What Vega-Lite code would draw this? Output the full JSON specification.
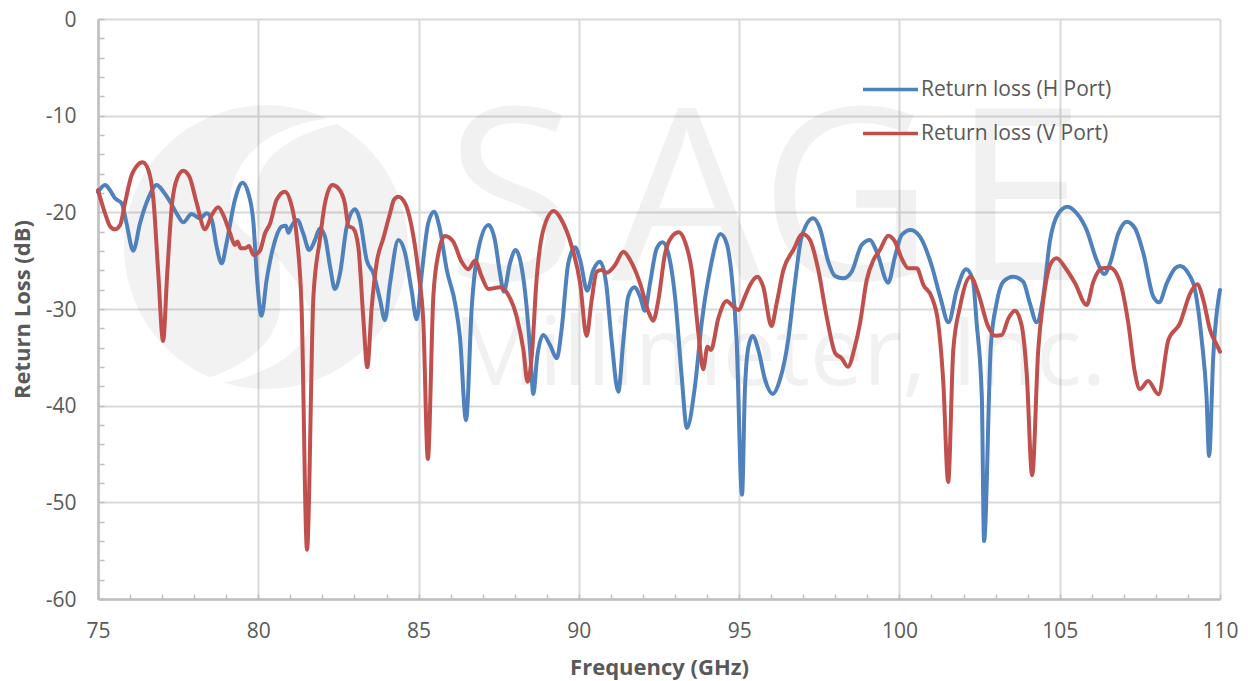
{"$schema":"https://vega.github.io/schema/vega-lite/v6.json","width":1122,"height":580,"autosize":{"type":"none"},"padding":{"left":98,"top":19,"right":28,"bottom":82},"background":"white","config":{"view":{"stroke":null},"font":"Open Sans"},
"datasets":{"H":[{"freq":75,"loss":-17.9},{"freq":75.22,"loss":-17.17},{"freq":75.37,"loss":-17.69},{"freq":75.53,"loss":-18.55},{"freq":75.74,"loss":-19.07},{"freq":75.89,"loss":-21.14},{"freq":76.1,"loss":-23.97},{"freq":76.31,"loss":-21.14},{"freq":76.57,"loss":-18.55},{"freq":76.83,"loss":-17.17},{"freq":77.04,"loss":-17.86},{"freq":77.25,"loss":-18.9},{"freq":77.45,"loss":-20.1},{"freq":77.66,"loss":-21.03},{"freq":77.92,"loss":-20.17},{"freq":78.18,"loss":-20.62},{"freq":78.39,"loss":-20.1},{"freq":78.55,"loss":-20.79},{"freq":78.7,"loss":-23.55},{"freq":78.86,"loss":-25.28},{"freq":79.01,"loss":-23.2},{"freq":79.27,"loss":-18.72},{"freq":79.51,"loss":-16.93},{"freq":79.69,"loss":-18.03},{"freq":79.85,"loss":-21.14},{"freq":79.95,"loss":-26.31},{"freq":80.1,"loss":-30.69},{"freq":80.26,"loss":-27},{"freq":80.47,"loss":-23.55},{"freq":80.73,"loss":-21.48},{"freq":80.86,"loss":-21.38},{"freq":80.94,"loss":-22.1},{"freq":81.04,"loss":-21.41},{"freq":81.22,"loss":-20.79},{"freq":81.4,"loss":-22.17},{"freq":81.59,"loss":-23.9},{"freq":81.77,"loss":-22.86},{"freq":81.92,"loss":-21.66},{"freq":82.08,"loss":-22.52},{"freq":82.24,"loss":-25.62},{"freq":82.39,"loss":-27.93},{"freq":82.55,"loss":-26.31},{"freq":82.76,"loss":-21.48},{"freq":83.02,"loss":-19.69},{"freq":83.17,"loss":-20.79},{"freq":83.38,"loss":-24.93},{"freq":83.59,"loss":-26.31},{"freq":83.8,"loss":-29.07},{"freq":83.95,"loss":-31.14},{"freq":84.11,"loss":-27.34},{"freq":84.37,"loss":-22.86},{"freq":84.58,"loss":-24.24},{"freq":84.78,"loss":-28.03},{"freq":84.94,"loss":-31.07},{"freq":85.1,"loss":-26.31},{"freq":85.3,"loss":-21.14},{"freq":85.48,"loss":-19.93},{"freq":85.65,"loss":-21.48},{"freq":85.88,"loss":-25.96},{"freq":86.14,"loss":-29.41},{"freq":86.29,"loss":-32.86},{"freq":86.48,"loss":-41.5},{"freq":86.66,"loss":-29.76},{"freq":86.86,"loss":-23.9},{"freq":87.18,"loss":-21.31},{"freq":87.38,"loss":-22.86},{"freq":87.54,"loss":-26.31},{"freq":87.66,"loss":-28.21},{"freq":87.85,"loss":-25.28},{"freq":88.03,"loss":-23.9},{"freq":88.18,"loss":-25.1},{"freq":88.37,"loss":-29.76},{"freq":88.48,"loss":-34.24},{"freq":88.58,"loss":-38.79},{"freq":88.7,"loss":-34.93},{"freq":88.89,"loss":-32.69},{"freq":89.1,"loss":-33.72},{"freq":89.31,"loss":-35.1},{"freq":89.46,"loss":-32.17},{"freq":89.67,"loss":-25.28},{"freq":89.88,"loss":-23.62},{"freq":90.04,"loss":-24.93},{"freq":90.26,"loss":-28.1},{"freq":90.45,"loss":-25.97},{"freq":90.66,"loss":-25.1},{"freq":90.85,"loss":-27.34},{"freq":91.02,"loss":-33.2},{"freq":91.23,"loss":-38.55},{"freq":91.39,"loss":-33.2},{"freq":91.54,"loss":-28.72},{"freq":91.73,"loss":-27.76},{"freq":91.91,"loss":-28.72},{"freq":92.06,"loss":-30.17},{"freq":92.22,"loss":-27.34},{"freq":92.43,"loss":-23.72},{"freq":92.61,"loss":-23.1},{"freq":92.79,"loss":-24.24},{"freq":93,"loss":-28.72},{"freq":93.2,"loss":-36.66},{"freq":93.37,"loss":-42.3},{"freq":93.62,"loss":-38.03},{"freq":93.83,"loss":-31.48},{"freq":94.09,"loss":-25.97},{"freq":94.42,"loss":-22.24},{"freq":94.61,"loss":-23.2},{"freq":94.77,"loss":-26.66},{"freq":94.92,"loss":-33.2},{"freq":95.09,"loss":-49.2},{"freq":95.18,"loss":-38.38},{"freq":95.29,"loss":-33.9},{"freq":95.42,"loss":-32.79},{"freq":95.6,"loss":-34.24},{"freq":95.81,"loss":-37.34},{"freq":96.05,"loss":-38.79},{"freq":96.27,"loss":-37.34},{"freq":96.53,"loss":-33.2},{"freq":96.74,"loss":-27.34},{"freq":96.95,"loss":-22.52},{"freq":97.31,"loss":-20.62},{"freq":97.52,"loss":-21.66},{"freq":97.78,"loss":-25.1},{"freq":97.99,"loss":-26.59},{"freq":98.25,"loss":-26.83},{"freq":98.51,"loss":-26.14},{"freq":98.82,"loss":-23.38},{"freq":99.08,"loss":-22.86},{"freq":99.29,"loss":-24.07},{"freq":99.65,"loss":-27.28},{"freq":99.86,"loss":-24.59},{"freq":100.07,"loss":-22.34},{"freq":100.35,"loss":-21.83},{"freq":100.64,"loss":-22.52},{"freq":101,"loss":-25.45},{"freq":101.27,"loss":-28.72},{"freq":101.53,"loss":-31.38},{"freq":101.79,"loss":-28.03},{"freq":102.08,"loss":-25.9},{"freq":102.29,"loss":-27},{"freq":102.41,"loss":-31.48},{"freq":102.57,"loss":-39.07},{"freq":102.64,"loss":-54},{"freq":102.85,"loss":-33.9},{"freq":103.03,"loss":-29.41},{"freq":103.24,"loss":-27.17},{"freq":103.55,"loss":-26.66},{"freq":103.86,"loss":-27.17},{"freq":104.07,"loss":-29.41},{"freq":104.28,"loss":-31.38},{"freq":104.47,"loss":-29.07},{"freq":104.7,"loss":-22.86},{"freq":104.96,"loss":-20.1},{"freq":105.24,"loss":-19.41},{"freq":105.53,"loss":-20.1},{"freq":105.84,"loss":-21.83},{"freq":106.15,"loss":-24.93},{"freq":106.39,"loss":-26.38},{"freq":106.57,"loss":-25.28},{"freq":106.83,"loss":-22.17},{"freq":107.09,"loss":-20.97},{"freq":107.35,"loss":-21.66},{"freq":107.61,"loss":-24.24},{"freq":107.92,"loss":-28.72},{"freq":108.1,"loss":-29.31},{"freq":108.34,"loss":-27.34},{"freq":108.6,"loss":-25.79},{"freq":108.75,"loss":-25.55},{"freq":109.01,"loss":-26.31},{"freq":109.22,"loss":-28.03},{"freq":109.43,"loss":-33.2},{"freq":109.58,"loss":-39.07},{"freq":109.66,"loss":-45.2},{"freq":109.79,"loss":-34.93},{"freq":110,"loss":-28.03}],
"V":[{"freq":75,"loss":-17.7},{"freq":75.22,"loss":-20.1},{"freq":75.37,"loss":-21.41},{"freq":75.53,"loss":-21.76},{"freq":75.69,"loss":-21.31},{"freq":75.84,"loss":-19.07},{"freq":76.05,"loss":-16.14},{"freq":76.21,"loss":-15.2},{"freq":76.39,"loss":-14.83},{"freq":76.57,"loss":-15.62},{"freq":76.73,"loss":-18.72},{"freq":76.88,"loss":-26.31},{"freq":77.03,"loss":-33.31},{"freq":77.16,"loss":-26.31},{"freq":77.3,"loss":-19.41},{"freq":77.47,"loss":-16.48},{"freq":77.66,"loss":-15.69},{"freq":77.85,"loss":-16.31},{"freq":78.08,"loss":-19.07},{"freq":78.34,"loss":-21.76},{"freq":78.55,"loss":-20.28},{"freq":78.75,"loss":-19.48},{"freq":78.91,"loss":-20.28},{"freq":79.12,"loss":-22.17},{"freq":79.27,"loss":-23.38},{"freq":79.35,"loss":-23.03},{"freq":79.45,"loss":-23.72},{"freq":79.59,"loss":-23.72},{"freq":79.71,"loss":-23.48},{"freq":79.85,"loss":-24.41},{"freq":80.05,"loss":-23.97},{"freq":80.21,"loss":-22.17},{"freq":80.37,"loss":-21.14},{"freq":80.57,"loss":-18.72},{"freq":80.83,"loss":-17.86},{"freq":81.02,"loss":-19.07},{"freq":81.2,"loss":-22.52},{"freq":81.35,"loss":-29.76},{"freq":81.52,"loss":-54.9},{"freq":81.72,"loss":-28.7},{"freq":81.92,"loss":-22.86},{"freq":82.08,"loss":-19.07},{"freq":82.31,"loss":-17.17},{"freq":82.5,"loss":-17.52},{"freq":82.7,"loss":-19.07},{"freq":82.81,"loss":-21.41},{"freq":82.96,"loss":-21.66},{"freq":83.12,"loss":-23.55},{"freq":83.28,"loss":-31.14},{"freq":83.4,"loss":-36.03},{"freq":83.54,"loss":-29.76},{"freq":83.69,"loss":-25.28},{"freq":83.9,"loss":-22.69},{"freq":84.11,"loss":-20.1},{"freq":84.23,"loss":-18.72},{"freq":84.37,"loss":-18.38},{"freq":84.58,"loss":-19.07},{"freq":84.84,"loss":-22.52},{"freq":85,"loss":-26.31},{"freq":85.15,"loss":-31.48},{"freq":85.29,"loss":-45.5},{"freq":85.46,"loss":-28.72},{"freq":85.62,"loss":-24.24},{"freq":85.82,"loss":-22.45},{"freq":86.08,"loss":-23.03},{"freq":86.34,"loss":-25.1},{"freq":86.55,"loss":-25.9},{"freq":86.76,"loss":-25},{"freq":86.97,"loss":-26.66},{"freq":87.18,"loss":-27.93},{"freq":87.54,"loss":-27.76},{"freq":87.8,"loss":-28.55},{"freq":88.06,"loss":-30.79},{"freq":88.27,"loss":-34.24},{"freq":88.4,"loss":-37.52},{"freq":88.53,"loss":-34.93},{"freq":88.68,"loss":-27},{"freq":88.89,"loss":-21.83},{"freq":89.22,"loss":-19.86},{"freq":89.46,"loss":-20.79},{"freq":89.78,"loss":-23.55},{"freq":90.04,"loss":-27.34},{"freq":90.24,"loss":-32.79},{"freq":90.4,"loss":-29.07},{"freq":90.56,"loss":-26.14},{"freq":90.71,"loss":-25.97},{"freq":90.87,"loss":-26.24},{"freq":91.13,"loss":-25.45},{"freq":91.39,"loss":-24.07},{"freq":91.6,"loss":-24.93},{"freq":91.91,"loss":-27.34},{"freq":92.17,"loss":-30.28},{"freq":92.32,"loss":-31.21},{"freq":92.48,"loss":-29.07},{"freq":92.69,"loss":-24.24},{"freq":92.9,"loss":-22.52},{"freq":93.12,"loss":-22.07},{"freq":93.31,"loss":-23.03},{"freq":93.52,"loss":-25.97},{"freq":93.73,"loss":-32.52},{"freq":93.88,"loss":-36.24},{"freq":94.01,"loss":-33.9},{"freq":94.12,"loss":-34.24},{"freq":94.35,"loss":-30.97},{"freq":94.61,"loss":-29.17},{"freq":94.82,"loss":-29.76},{"freq":94.98,"loss":-30.1},{"freq":95.18,"loss":-28.72},{"freq":95.34,"loss":-27.52},{"freq":95.57,"loss":-26.66},{"freq":95.75,"loss":-27.69},{"freq":96.01,"loss":-31.76},{"freq":96.17,"loss":-29.41},{"freq":96.38,"loss":-25.97},{"freq":96.69,"loss":-23.9},{"freq":96.98,"loss":-22.24},{"freq":97.21,"loss":-22.86},{"freq":97.47,"loss":-25.97},{"freq":97.73,"loss":-30.79},{"freq":98,"loss":-34.59},{"freq":98.2,"loss":-35.1},{"freq":98.39,"loss":-35.97},{"freq":98.61,"loss":-33.9},{"freq":98.77,"loss":-31.48},{"freq":98.98,"loss":-27},{"freq":99.19,"loss":-24.93},{"freq":99.39,"loss":-23.9},{"freq":99.65,"loss":-22.41},{"freq":99.86,"loss":-23.03},{"freq":100.07,"loss":-24.76},{"freq":100.28,"loss":-25.79},{"freq":100.54,"loss":-25.79},{"freq":100.75,"loss":-27.52},{"freq":101,"loss":-28.72},{"freq":101.21,"loss":-31.48},{"freq":101.37,"loss":-37.69},{"freq":101.52,"loss":-47.9},{"freq":101.68,"loss":-34.24},{"freq":101.89,"loss":-29.76},{"freq":102.22,"loss":-26.66},{"freq":102.46,"loss":-28.38},{"freq":102.77,"loss":-31.83},{"freq":102.98,"loss":-32.76},{"freq":103.19,"loss":-32.69},{"freq":103.4,"loss":-30.97},{"freq":103.6,"loss":-30.17},{"freq":103.81,"loss":-31.66},{"freq":103.97,"loss":-36.66},{"freq":104.14,"loss":-47.2},{"freq":104.33,"loss":-34.24},{"freq":104.49,"loss":-29.07},{"freq":104.7,"loss":-25.45},{"freq":104.9,"loss":-24.76},{"freq":105.22,"loss":-25.97},{"freq":105.48,"loss":-27.34},{"freq":105.84,"loss":-29.59},{"freq":106.05,"loss":-27.17},{"freq":106.31,"loss":-25.79},{"freq":106.57,"loss":-25.72},{"freq":106.88,"loss":-27.17},{"freq":107.14,"loss":-31.48},{"freq":107.35,"loss":-36.66},{"freq":107.5,"loss":-38.28},{"freq":107.76,"loss":-37.45},{"freq":108.08,"loss":-38.83},{"freq":108.39,"loss":-33.2},{"freq":108.75,"loss":-31.48},{"freq":109.07,"loss":-28.38},{"freq":109.29,"loss":-27.45},{"freq":109.48,"loss":-29.07},{"freq":109.69,"loss":-32.17},{"freq":109.9,"loss":-33.72},{"freq":110,"loss":-34.41}]},
"encoding":{"x":{"field":"freq","type":"quantitative","sort":null,"scale":{"domain":[75,110]},"axis":{"title":"Frequency (GHz)","values":[75,76,77,78,79,80,81,82,83,84,85,86,87,88,89,90,91,92,93,94,95,96,97,98,99,100,101,102,103,104,105,106,107,108,109,110],"labelExpr":"datum.value % 5 == 0 ? '' + datum.value : ''","labelOverlap":false,"labelFlush":false,"grid":true,"gridColor":"#d9d9d9","gridWidth":2,"gridOpacity":{"condition":{"test":"datum.value % 5 == 0","value":1},"value":0},"domainColor":"#bfbfbf","domainWidth":2.5,"tickColor":"#bfbfbf","tickWidth":1.5,"tickSize":-5,"labelFontSize":21,"labelColor":"#595959","labelFont":"Open Sans","labelPadding":26,"titleFontSize":22,"titleFontWeight":"bold","titleColor":"#595959","titleFont":"Open Sans","titlePadding":16}},"y":{"field":"loss","type":"quantitative","scale":{"domain":[-60,0]},"axis":{"title":"Return Loss (dB)","values":[-60,-58,-56,-54,-52,-50,-48,-46,-44,-42,-40,-38,-36,-34,-32,-30,-28,-26,-24,-22,-20,-18,-16,-14,-12,-10,-8,-6,-4,-2,0],"labelExpr":"datum.value % 10 == 0 ? '' + datum.value : ''","labelOverlap":false,"labelFlush":false,"grid":true,"gridColor":"#d9d9d9","gridWidth":2,"gridOpacity":{"condition":{"test":"datum.value % 10 == 0","value":1},"value":0},"domainColor":"#bfbfbf","domainWidth":2.5,"tickColor":"#bfbfbf","tickWidth":1.5,"tickSize":-6,"labelFontSize":21,"labelColor":"#595959","labelFont":"Open Sans","labelPadding":28,"labelOffset":1,"titleFontSize":22,"titleFontWeight":"bold","titleColor":"#595959","titleFont":"Open Sans","titlePadding":11}}},
"layer":[
{"data":{"values":[{"freq":80.24,"loss":-23.59}]},"mark":{"type":"point","filled":true,"fill":"black","fillOpacity":0.05,"stroke":null,"size":80656,"shape":"M0.427,-0.904A1,1,0,0,0,-1,0A1,1,0,0,0,-0.394,0.919C-0.2,0.85,0.1,0.7,0.1,0.39C0.1,0.2,0.1,0.05,0.075,0.04C-0.05,-0.05,-0.25,-0.1,-0.25,-0.33C-0.25,-0.6,0,-0.85,0.427,-0.904Z"}},
{"data":{"values":[{"freq":80.24,"loss":-23.59}]},"mark":{"type":"point","filled":true,"fill":"black","fillOpacity":0.05,"stroke":null,"size":80656,"shape":"M0.5,-0.866A1,1,0,0,1,1,0A1,1,0,0,1,-0.3,0.954C0,0.9,0.32,0.72,0.31,0.51C0.3,0.3,0.1,0.1,0.005,-0.005C-0.08,-0.1,-0.08,-0.3,-0.06,-0.45C-0.03,-0.65,0.2,-0.8,0.5,-0.866Z"}},
{"data":{"values":[{"freq":87.91,"loss":-27,"t":"S"},{"freq":93.37,"loss":-27,"t":"A"},{"freq":98.36,"loss":-27,"t":"G"},{"freq":103.72,"loss":-27,"t":"E"}]},"mark":{"type":"text","font":"Open Sans","fontSize":240,"color":"black","opacity":0.05,"baseline":"alphabetic","align":"center"},"encoding":{"text":{"field":"t"}}},
{"data":{"values":[{"freq":96.27,"loss":-37.86,"t":"Millimeter, Inc."}]},"mark":{"type":"text","font":"Open Sans","fontSize":95,"color":"black","opacity":0.05,"baseline":"alphabetic","align":"center"},"encoding":{"text":{"field":"t"}}},
{"data":{"name":"H"},"mark":{"type":"line","interpolate":"monotone","strokeWidth":4,"strokeCap":"round"},"encoding":{"color":{"datum":"Return loss (H Port)","type":"nominal","scale":{"domain":["Return loss (H Port)","Return loss (V Port)"],"range":["#4f81bd","#c0504d"]},"legend":{"title":null,"orient":"none","legendX":763,"legendY":41,"symbolType":"stroke","symbolSize":3025,"symbolStrokeWidth":3.6,"labelFontSize":21,"labelColor":"#595959","labelFont":"Open Sans","labelOffset":1,"labelLimit":300,"rowPadding":4}}}},
{"data":{"name":"V"},"mark":{"type":"line","interpolate":"monotone","strokeWidth":4,"strokeCap":"round"},"encoding":{"color":{"datum":"Return loss (V Port)","type":"nominal"}}}
]}
